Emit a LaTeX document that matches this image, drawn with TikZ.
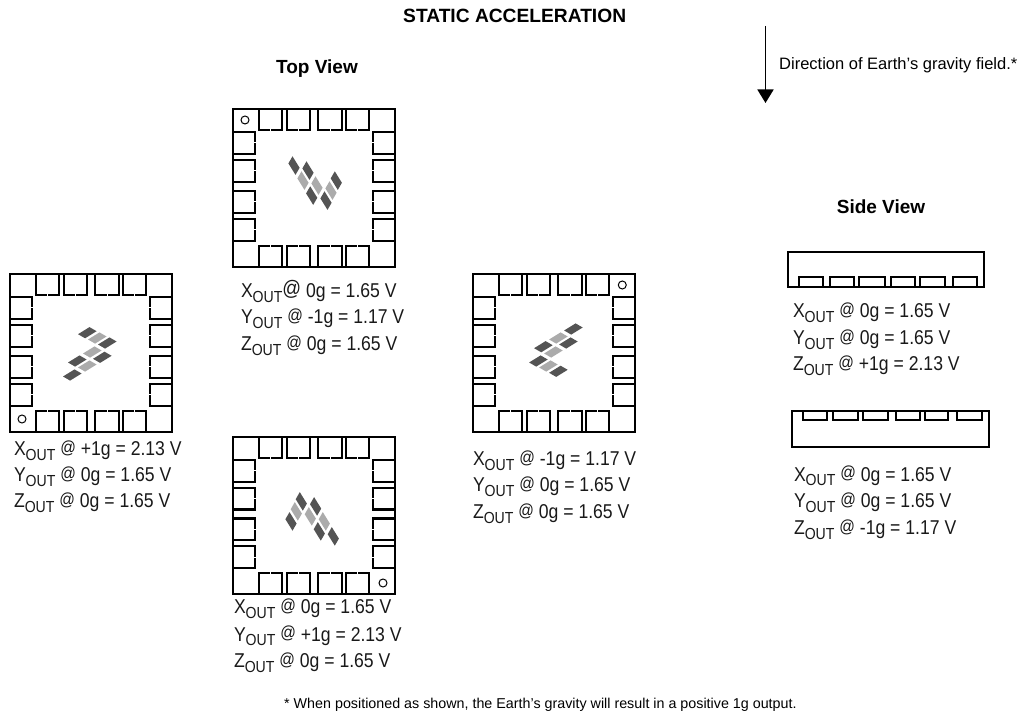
\documentclass[tikz,border=0pt]{standalone}
\usepackage{fontspec}
\usetikzlibrary{arrows.meta}
\setmainfont{Liberation Sans}
\newfontfamily\narrowfont[FakeStretch=0.88]{Liberation Sans}
\newcommand{\outsub}{\raisebox{-4.6pt}{\fontsize{16}{16}\selectfont OUT}}
\newcommand{\atsign}{\raisebox{2.4pt}{\fontsize{17.5}{17.5}\selectfont @}}
\newcommand{\atbig}{\raisebox{2.8pt}{\fontsize{21}{21}\selectfont @}}
\definecolor{logodark}{gray}{0.33}
\definecolor{logolight}{gray}{0.67}
\tikzset{
  x=1pt,y=-1pt,
  vtext/.style={anchor=base west,inner sep=0pt,outer sep=0pt,font=\narrowfont\fontsize{20}{20}\selectfont,text=black!90},
  headtext/.style={anchor=base west,inner sep=0pt,font=\bfseries\fontsize{19.2}{19.2}\selectfont},
  viewtext/.style={anchor=base,inner sep=0pt,font=\bfseries\fontsize{19}{19}\selectfont},
  notetext/.style={anchor=base west,inner sep=0pt,font=\fontsize{16.5}{16.5}\selectfont},
  foottext/.style={anchor=base west,inner sep=0pt,font=\fontsize{14.3}{14.3}\selectfont},
  pkgline/.style={line width=2.2pt,line cap=rect},
  sideline/.style={line width=1.6pt,line join=miter},
  padgap/.style={white,line width=1pt},
  dimple/.style={draw,line width=1pt},
  pics/package/.style={code={
    \draw[pkgline] (0,0) rectangle (162,158);
    \foreach \a/\b in {26/49,54/77,85/109,113/136}{
      \draw[pkgline] (\a,0) -- (\a,21) -- (\b,21) -- (\b,0);
      \draw[pkgline] (\a,158) -- (\a,137) -- (\b,137) -- (\b,158);
      \draw[padgap] ({(\a+\b)/2},19.5) -- ({(\a+\b)/2},22.5);
      \draw[padgap] ({(\a+\b)/2},135.5) -- ({(\a+\b)/2},138.5);
    }
    \foreach \a/\b in {23/45,51/73,82/104,110/132}{
      \draw[pkgline] (0,\a) -- (22,\a) -- (22,\b) -- (0,\b);
      \draw[pkgline] (162,\a) -- (140,\a) -- (140,\b) -- (162,\b);
      \draw[padgap] (20.5,{(\a+\b)/2}) -- (23.5,{(\a+\b)/2});
      \draw[padgap] (138.5,{(\a+\b)/2}) -- (141.5,{(\a+\b)/2});
    }
  }},
  pics/logo/.style={code={
    \foreach \cx/\cy in {-2.7/-21.3,17.3/-11,12.3/3.3,-12.7/7,-17.7/21}{
      \fill[logodark] (\cx-9.3,\cy+1.5) -- (\cx+2.2,\cy-5.6) -- (\cx+9.3,\cy-1.5) -- (\cx-2.2,\cy+5.6) -- cycle;
    }
    \foreach \cx/\cy in {7.3/-16,2.3/-2,-2.7/12}{
      \fill[logolight] (\cx-9.3,\cy+1.5) -- (\cx+2.2,\cy-5.6) -- (\cx+9.3,\cy-1.5) -- (\cx-2.2,\cy+5.6) -- cycle;
    }
  }},
}
\begin{document}
\begin{tikzpicture}
\useasboundingbox (0,0) rectangle (1026,711);
% titles
\node[headtext] (title) at (403,23) {STATIC ACCELERATION};
\node[viewtext] (topview) at (317,73.5) {Top View};
\node[viewtext] (sideview) at (881,213.5) {Side View};
% gravity arrow
\coordinate (arrowtop) at (765.5,26);
\coordinate (arrowtip) at (765.5,103);
\draw[line width=1.7pt,-{Triangle[length=13.5pt,width=16pt]}] (arrowtop) -- (arrowtip);
\node[notetext] (gravity) at (779,69.5) {Direction of Earth’s gravity field.*};
% packages
\pic at (233,109) {package};
\pic at (10,274) {package};
\pic at (473,274) {package};
\pic[yscale=157/158] at (233,437) {package};
\draw[dimple] (245,120) circle[radius=4];
\draw[dimple] (22,419) circle[radius=4];
\draw[dimple] (622.3,285) circle[radius=4];
\draw[dimple] (383,583) circle[radius=4];
% logos
\pic[rotate=-90] at (315,183.3) {logo};
\pic at (90,354) {logo};
\pic[rotate=180] at (555.7,350) {logo};
\pic[rotate=90] at (312.3,518.7) {logo};
% side views
\draw[sideline] (788,252) rectangle (984,287);
\foreach \a/\b in {799/823,830/854,859/885,891/915,920/945,953/977}{
  \draw[sideline] (\a,287) -- (\a,277) -- (\b,277) -- (\b,287);
}
\draw[sideline] (792,411) rectangle (989,447);
\foreach \a/\b in {803/827,833/858,863/888,896/920,925/948,957/982}{
  \draw[sideline] (\a,411) -- (\a,420) -- (\b,420) -- (\b,411);
}
% readings: top view
\node[vtext] (tx) at (241,298) {X\outsub\atbig\ 0g = 1.65 V};
\node[vtext] (ty) at (241,324) {Y\outsub\ \atsign\ -1g = 1.17 V};
\node[vtext] (tz) at (241,351) {Z\outsub\ \atsign\ 0g = 1.65 V};
% left view
\node[vtext] (lx) at (14,455.5) {X\outsub\ \atsign\ +1g = 2.13 V};
\node[vtext] (ly) at (14,481.5) {Y\outsub\ \atsign\ 0g = 1.65 V};
\node[vtext] (lz) at (14,507.5) {Z\outsub\ \atsign\ 0g = 1.65 V};
% right view
\node[vtext] (rx) at (473,465.5) {X\outsub\ \atsign\ -1g = 1.17 V};
\node[vtext] (ry) at (473,491.5) {Y\outsub\ \atsign\ 0g = 1.65 V};
\node[vtext] (rz) at (473,518.5) {Z\outsub\ \atsign\ 0g = 1.65 V};
% bottom view
\node[vtext] (bx) at (234,613.5) {X\outsub\ \atsign\ 0g = 1.65 V};
\node[vtext] (by) at (234,641) {Y\outsub\ \atsign\ +1g = 2.13 V};
\node[vtext] (bz) at (234,667.5) {Z\outsub\ \atsign\ 0g = 1.65 V};
% side view 1
\node[vtext] (sax) at (793,317.5) {X\outsub\ \atsign\ 0g = 1.65 V};
\node[vtext] (say) at (793,344.5) {Y\outsub\ \atsign\ 0g = 1.65 V};
\node[vtext] (saz) at (793,370.5) {Z\outsub\ \atsign\ +1g = 2.13 V};
% side view 2
\node[vtext] (sbx) at (794,481) {X\outsub\ \atsign\ 0g = 1.65 V};
\node[vtext] (sby) at (794,507.5) {Y\outsub\ \atsign\ 0g = 1.65 V};
\node[vtext] (sbz) at (794,534.5) {Z\outsub\ \atsign\ -1g = 1.17 V};
% footnote
\node[foottext] (foot) at (284,708) {* When positioned as shown, the Earth’s gravity will result in a positive 1g output.};
\end{tikzpicture}
\end{document}
